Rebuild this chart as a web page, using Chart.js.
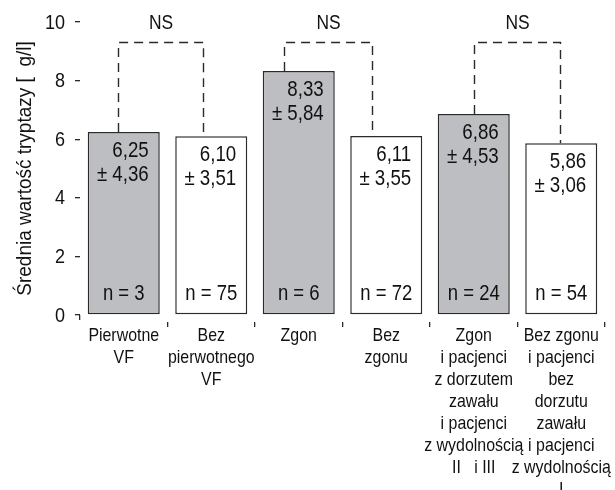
<!DOCTYPE html>
<html><head><meta charset="utf-8">
<script src="https://cdn.jsdelivr.net/npm/chart.js@4"></script>
<style>html,body{margin:0;padding:0;background:#fff;overflow:hidden}#wrap{width:615px;height:490px;position:relative}</style>
</head><body><div id="wrap"><canvas id="c" width="615" height="490"></canvas></div>
<script>
const categories = [
  ["Pierwotne","VF"],
  ["Bez","pierwotnego","VF"],
  ["Zgon"],
  ["Bez","zgonu"],
  ["Zgon","i pacjenci","z dorzutem","zawału","i pacjenci","z wydolnością","II   i III"],
  ["Bez zgonu","i pacjenci","bez","dorzutu","zawału","i pacjenci","z wydolnością","I"]
];
const means = [6.25, 6.10, 8.33, 6.11, 6.86, 5.86];
const sds = [4.36, 3.51, 5.84, 3.55, 4.53, 3.06];
const counts = [3, 75, 6, 72, 24, 54];
const yTicks = [0, 2, 4, 6, 8, 10];
const comparisons = [[0, 1], [2, 3], [4, 5]];
const comparisonLabels = ["NS", "NS", "NS"];
const yTitle = "Średnia wartość tryptazy [  g/l]";

const FONT = "'Liberation Sans',Arial,sans-serif";
const INK = '#111';
const fmt = v => v.toFixed(2).replace('.', ',');

// condensed text: Liberation Sans squeezed horizontally
function txt(ctx, s, x, y, size, sx, align, rot) {
  ctx.save();
  ctx.translate(x, y);
  if (rot) ctx.rotate(rot);
  ctx.scale(sx, 1);
  ctx.font = size + 'px ' + FONT;
  ctx.textAlign = align || 'center';
  ctx.textBaseline = 'middle';
  ctx.fillText(s, 0, 0);
  ctx.restore();
}

const annot = {
  id: 'annot',
  afterDraw(chart) {
    const ctx = chart.ctx;
    const meta = chart.getDatasetMeta(0);
    const xs = chart.scales.x, ys = chart.scales.y;
    ctx.save();
    ctx.fillStyle = INK;
    // y tick labels
    ys.ticks.forEach(t => {
      txt(ctx, String(t.value), 65, ys.getPixelForValue(t.value) + 1, 20, 0.9, 'right');
    });
    // y title
    txt(ctx, yTitle, 25, (chart.chartArea.top + chart.chartArea.bottom) / 2, 20, 0.95, 'center', -Math.PI / 2);
    // x tick labels
    categories.forEach((lines, i) => {
      const cx = xs.getPixelForTick(i);
      lines.forEach((l, k) => txt(ctx, l, cx, 336 + k * 22, 18.5, 0.86, 'center'));
    });
    // bar texts
    meta.data.forEach((bar, i) => {
      const right = bar.x + bar.width / 2 - 11;
      txt(ctx, fmt(means[i]), right, bar.y + 19, 21.5, 0.87, 'right');
      txt(ctx, '± ' + fmt(sds[i]), right, bar.y + 43, 21.5, 0.87, 'right');
      txt(ctx, 'n = ' + counts[i], bar.x, bar.base - 20, 21.5, 0.86, 'center');
    });
    // brackets
    const offs = [[-6, -8], [-15, -14], [0, -1]];
    const topY = 42.5;
    ctx.strokeStyle = '#2a2a2a';
    ctx.lineWidth = 1.4;
    ctx.setLineDash([9, 6]);
    comparisons.forEach((pair, k) => {
      const a = meta.data[pair[0]], b = meta.data[pair[1]];
      const xa = Math.round(a.x + offs[k][0]) + 0.5, xb = Math.round(b.x + offs[k][1]) + 0.5;
      ctx.beginPath();
      ctx.moveTo(xa, a.y);
      ctx.lineTo(xa, topY);
      ctx.lineTo(xb, topY);
      ctx.lineTo(xb, b.y);
      ctx.stroke();
      txt(ctx, comparisonLabels[k], (xa + xb) / 2, 23, 20.5, 0.85, 'center');
    });
    ctx.restore();
  }
};

new Chart(document.getElementById('c'), {
  type: 'bar',
  data: {
    labels: categories,
    datasets: [{
      data: means,
      backgroundColor: c => (c.dataIndex % 2 === 0 ? '#bdbec1' : '#ffffff'),
      borderColor: '#2a2a2a',
      borderWidth: 1.5,
      borderSkipped: false,
      barPercentage: 0.823,
      categoryPercentage: 1
    }]
  },
  options: {
    responsive: false,
    animation: false,
    devicePixelRatio: 1,
    layout: { padding: { top: 22, right: 10, left: 0, bottom: 0 } },
    plugins: { legend: { display: false }, tooltip: { enabled: false } },
    scales: {
      x: {
        border: { display: false },
        grid: {
          drawOnChartArea: false, tickLength: 12, color: '#2a2a2a', lineWidth: 1.3,
          tickBorderDash: c => (c.index === 0 ? [5, 100] : [0, 7, 5, 100])
        },
        ticks: { display: false },
        afterFit: s => { s.height = 175; }
      },
      y: {
        min: 0, max: 10,
        border: { display: false },
        grid: { drawOnChartArea: false, tickLength: 5, color: '#2a2a2a', lineWidth: 1.3 },
        ticks: { display: false },
        afterBuildTicks: s => { s.ticks = yTicks.map(v => ({ value: v })); },
        afterFit: s => { s.width = 80; }
      }
    }
  },
  plugins: [annot]
});
</script></body></html>
